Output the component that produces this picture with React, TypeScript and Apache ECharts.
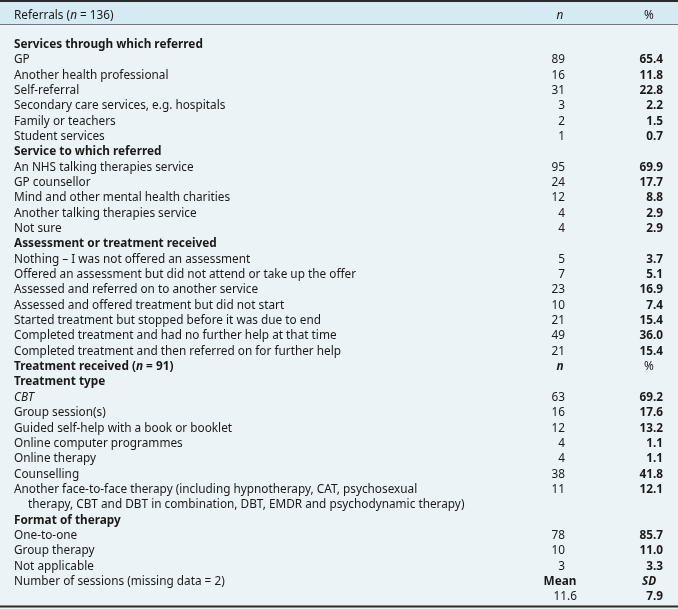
import React, { useEffect, useRef } from "react";
import * as echarts from "echarts";

const headerLabel = "Referrals";
const headerN = 136;

const sec1Title = "Services through which referred";
const sec1Labels = ["GP", "Another health professional", "Self-referral", "Secondary care services, e.g. hospitals", "Family or teachers", "Student services"];
const sec1N = [89, 16, 31, 3, 2, 1];
const sec1Pct = ["65.4", "11.8", "22.8", "2.2", "1.5", "0.7"];

const sec2Title = "Service to which referred";
const sec2Labels = ["An NHS talking therapies service", "GP counsellor", "Mind and other mental health charities", "Another talking therapies service", "Not sure"];
const sec2N = [95, 24, 12, 4, 4];
const sec2Pct = ["69.9", "17.7", "8.8", "2.9", "2.9"];

const sec3Title = "Assessment or treatment received";
const sec3Labels = [
  "Nothing \u2013 I was not offered an assessment",
  "Offered an assessment but did not attend or take up the offer",
  "Assessed and referred on to another service",
  "Assessed and offered treatment but did not start",
  "Started treatment but stopped before it was due to end",
  "Completed treatment and had no further help at that time",
  "Completed treatment and then referred on for further help",
];
const sec3N = [5, 7, 23, 10, 21, 49, 21];
const sec3Pct = ["3.7", "5.1", "16.9", "7.4", "15.4", "36.0", "15.4"];

const treatedLabel = "Treatment received";
const treatedN = 91;

const sec4Title = "Treatment type";
const sec4Labels = [
  "CBT",
  "Group session(s)",
  "Guided self-help with a book or booklet",
  "Online computer programmes",
  "Online therapy",
  "Counselling",
  "Another face-to-face therapy (including hypnotherapy, CAT, psychosexual|therapy, CBT and DBT in combination, DBT, EMDR and psychodynamic therapy)",
];
const sec4N = [63, 16, 12, 4, 4, 38, 11];
const sec4Pct = ["69.2", "17.6", "13.2", "1.1", "1.1", "41.8", "12.1"];

const sec5Title = "Format of therapy";
const sec5Labels = ["One-to-one", "Group therapy", "Not applicable"];
const sec5N = [78, 10, 3];
const sec5Pct = ["85.7", "11.0", "3.3"];

const sessionsLabel = "Number of sessions (missing data = 2)";
const sessionsMean = "11.6";
const sessionsSD = "7.9";

const FONT = '"Noto Sans", "DejaVu Sans", sans-serif';
const FS = 11.8;
const LH = 13;
const INK = "#1a1a1a";
const W = 678;
const H = 609;
const ROW0 = 43;
const ROWH = 15.34;
const XL = 14;
const XN = 565;
const XNC = 560;
const XP = 663;
const XPC = 649;

type Row = { kind: string; label: string; n?: string; pct?: string };

function buildRows(): Row[] {
  const rows: Row[] = [];
  const addSec = (title: string, labels: string[], ns: number[], pcts: string[]) => {
    rows.push({ kind: "section", label: title });
    labels.forEach((l, i) => {
      const parts = l.split("|");
      rows.push({ kind: i === 0 && l === "CBT" ? "italic" : "item", label: parts[0], n: String(ns[i]), pct: pcts[i] });
      for (let k = 1; k < parts.length; k++) rows.push({ kind: "cont", label: parts[k] });
    });
  };
  addSec(sec1Title, sec1Labels, sec1N, sec1Pct);
  addSec(sec2Title, sec2Labels, sec2N, sec2Pct);
  addSec(sec3Title, sec3Labels, sec3N, sec3Pct);
  rows.push({ kind: "treated", label: treatedLabel });
  addSec(sec4Title, sec4Labels, sec4N, sec4Pct);
  addSec(sec5Title, sec5Labels, sec5N, sec5Pct);
  rows.push({ kind: "sessions", label: sessionsLabel });
  rows.push({ kind: "stats", label: "" });
  return rows;
}

function txt(text: string, x: number, y: number, align: string, weight = "normal", style = "normal", extra: any = {}) {
  return {
    type: "text",
    silent: true,
    style: {
      text,
      x,
      y,
      align,
      verticalAlign: "middle",
      fill: INK,
      fontFamily: FONT,
      fontSize: FS,
      lineHeight: LH,
      fontWeight: weight,
      fontStyle: style,
      ...extra,
    },
  };
}

export default function App() {
  const ref = useRef<HTMLDivElement>(null);
  useEffect(() => {
    if (!ref.current) return;
    const chart = echarts.init(ref.current, null, { renderer: "svg" });
    const rows = buildRows();
    const els: any[] = [];
    els.push({ type: "rect", silent: true, shape: { x: 0, y: 0, width: W, height: H }, style: { fill: "#ebf3f7" } });
    els.push({ type: "rect", silent: true, shape: { x: 0, y: 0, width: W, height: 24.5 }, style: { fill: "#d5eaf3" } });
    els.push({ type: "line", silent: true, shape: { x1: 0, y1: 1, x2: W, y2: 1 }, style: { stroke: "#2b2b2b", lineWidth: 2 } });
    els.push({ type: "line", silent: true, shape: { x1: 0, y1: 24.5, x2: W, y2: 24.5 }, style: { stroke: "#777", lineWidth: 1 } });
    els.push({ type: "line", silent: true, shape: { x1: 0, y1: 606.5, x2: W, y2: 606.5 }, style: { stroke: "#2b2b2b", lineWidth: 2 } });

    const base = { fontFamily: FONT, fontSize: FS, lineHeight: LH, color: INK };
    const rich = {
      r: { ...base },
      i: { ...base, fontStyle: "italic" },
      b: { ...base, fontWeight: "bold" },
      bi: { ...base, fontWeight: "bold", fontStyle: "italic" },
    };
    const hy = 13.5;
    els.push(txt(`{r|${headerLabel} (}{i|n}{r| = ${headerN})}`, XL, hy, "left", "normal", "normal", { rich }));
    els.push(txt("n", XNC, hy, "center", "normal", "italic"));
    els.push(txt("%", XPC, hy, "center"));

    rows.forEach((r, idx) => {
      const y = ROW0 + idx * ROWH;
      if (r.kind === "section") {
        els.push(txt(r.label, XL, y, "left", "bold"));
      } else if (r.kind === "item" || r.kind === "italic") {
        els.push(txt(r.label, XL, y, "left", "normal", r.kind === "italic" ? "italic" : "normal"));
        els.push(txt(r.n || "", XN, y, "right"));
        els.push(txt(r.pct || "", XP, y, "right", "bold"));
      } else if (r.kind === "cont") {
        els.push(txt(r.label, XL + 14, y, "left"));
      } else if (r.kind === "treated") {
        els.push(txt(`{b|${r.label} (}{bi|n}{b| = ${treatedN})}`, XL, y, "left", "bold", "normal", { rich }));
        els.push(txt("n", XNC, y, "center", "bold", "italic"));
        els.push(txt("%", XPC, y, "center"));
      } else if (r.kind === "sessions") {
        els.push(txt(r.label, XL, y, "left"));
        els.push(txt("Mean", XNC, y, "center", "bold"));
        els.push(txt("SD", XPC, y, "center", "bold", "italic"));
      } else if (r.kind === "stats") {
        els.push(txt(sessionsMean, XN + 12, y, "right"));
        els.push(txt(sessionsSD, XP, y, "right", "bold"));
      }
    });

    chart.setOption({ animation: false, graphic: { elements: els } });
    return () => chart.dispose();
  }, []);
  return <div ref={ref} style={{ position: "fixed", left: 0, top: 0, width: W, height: H }} />;
}
